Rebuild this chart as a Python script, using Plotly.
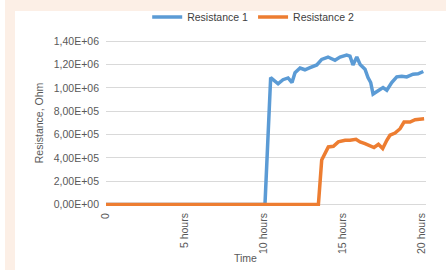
import plotly.graph_objects as go

# Data (time in hours, resistance in Ohm)
t1 = [0, 10.06, 10.42, 10.89, 11.2, 11.52, 11.77, 11.96, 12.28, 12.59, 12.91, 13.34, 13.65,
      14.05, 14.49, 14.81, 15.23, 15.44, 15.63, 15.87, 16.08, 16.39, 16.58, 16.75, 16.9,
      17.22, 17.53, 17.77, 18.08, 18.4, 18.72, 19.03, 19.43, 19.75, 20.08]
r1 = [0, 0, 1.088e6, 1.035e6, 1.07e6, 1.085e6, 1.046e6, 1.13e6, 1.17e6, 1.155e6, 1.173e6,
      1.196e6, 1.244e6, 1.264e6, 1.236e6, 1.264e6, 1.28e6, 1.272e6, 1.196e6, 1.264e6, 1.2e6,
      1.16e6, 1.088e6, 1.046e6, 0.947e6, 0.975e6, 1.003e6, 0.98e6, 1.046e6, 1.094e6, 1.1e6,
      1.094e6, 1.117e6, 1.12e6, 1.14e6]

t2 = [0, 13.44, 13.65, 13.8, 14.07, 14.39, 14.7, 15.13, 15.44, 15.82, 16.08, 16.39, 16.71,
      16.96, 17.24, 17.51, 17.77, 17.97, 18.29, 18.61, 18.86, 19.24, 19.56, 19.87, 20.13]
r2 = [0, 0, 0.382e6, 0.424e6, 0.494e6, 0.5e6, 0.537e6, 0.551e6, 0.551e6, 0.56e6, 0.537e6,
      0.523e6, 0.5e6, 0.489e6, 0.517e6, 0.48e6, 0.551e6, 0.594e6, 0.613e6, 0.65e6, 0.707e6,
      0.707e6, 0.727e6, 0.735e6, 0.735e6]

x_tickvals = [0, 5, 10, 15, 20]
x_ticktext = ["0", "5 hours", "10 hours", "15 hours", "20 hours"]
y_tickvals = [0, 2e5, 4e5, 6e5, 8e5, 1e6, 1.2e6, 1.4e6]
y_ticktext = ["0,00E+00", "2,00E+05", "4,00E+05", "6,00E+05", "8,00E+05",
              "1,00E+06", "1,20E+06", "1,40E+06"]
x_title = "Time"
y_title = "Resistance, Ohm"

BLUE = "#5B9BD5"
ORANGE = "#ED7D31"
PEACH = "#FCEFE6"
FONT = "Liberation Sans"
FS = 10.5

fig = go.Figure()
fig.add_trace(go.Scatter(x=t1, y=r1, mode="lines", name="Resistance 1",
                         line=dict(color=BLUE, width=3.5)))
fig.add_trace(go.Scatter(x=t2, y=r2, mode="lines", name="Resistance 2",
                         line=dict(color=ORANGE, width=3.5)))

L, R, T, B = 106, 20, 40, 64
W, H = 446, 270
pw, ph = W - L - R, H - T - B

def px(x):
    return (x - L) / pw

def py(y):
    return (H - B - y) / ph

shapes = [
    dict(type="rect", xref="paper", yref="paper", x0=px(5), x1=px(446), y0=py(0), y1=py(11),
         fillcolor=PEACH, line=dict(width=0), layer="below"),
    dict(type="rect", xref="paper", yref="paper", x0=px(5), x1=px(15), y0=py(0), y1=py(270),
         fillcolor=PEACH, line=dict(width=0), layer="below"),
]

fig.update_layout(
    width=W, height=H,
    margin=dict(l=L, r=R, t=T, b=B, autoexpand=False),
    paper_bgcolor="white", plot_bgcolor="white",
    font=dict(family=FONT, size=FS, color="#595959"),
    shapes=shapes,
    annotations=[dict(text=x_title, xref="paper", yref="paper", x=px(245), y=py(258),
                      xanchor="center", yanchor="middle", showarrow=False,
                      font=dict(size=FS, color="#595959"))],
    legend=dict(orientation="h", x=0.46, xanchor="center", y=py(17), yanchor="middle",
                font=dict(size=FS, color="#404040"), bgcolor="rgba(0,0,0,0)",
                itemwidth=30, tracegroupgap=0),
    xaxis=dict(range=[0, 20.25], tickvals=x_tickvals, ticktext=x_ticktext, tickangle=-90,
               showgrid=False, zeroline=False, showline=False, ticks="", automargin=False,
               ticklabelstandoff=4,
               tickfont=dict(size=FS, color="#595959")),
    yaxis=dict(range=[-0.012e6, 1.41e6], tickvals=y_tickvals, ticktext=y_ticktext,
               showgrid=True, gridcolor="#D9D9D9", gridwidth=1, zeroline=False,
               showline=False, ticks="", automargin=False, ticklabelstandoff=6,
               tickfont=dict(size=FS, color="#595959"),
               title=dict(text=y_title, font=dict(size=FS, color="#595959"),
                          standoff=8)),
)

fig.write_html("out.html", config={"displayModeBar": False},
               post_script="document.body.style.margin='0';")
